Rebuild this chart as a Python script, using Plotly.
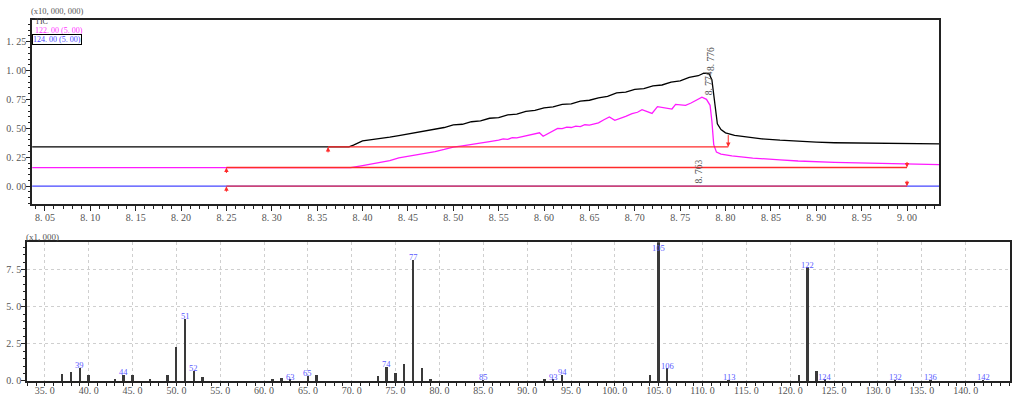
import numpy as np
import plotly.graph_objects as go

# ---------------- chromatogram (intensity in units of 10,000,000) ----------------
tic_time = [8.036, 8.100, 8.200, 8.300, 8.362, 8.385, 8.390, 8.395, 8.400, 8.410,
            8.420, 8.430, 8.440, 8.450, 8.460, 8.470, 8.480, 8.490, 8.500, 8.510,
            8.520, 8.530, 8.540, 8.550, 8.560, 8.570, 8.580, 8.590, 8.600, 8.610,
            8.620, 8.630, 8.640, 8.650, 8.660, 8.670, 8.680, 8.690, 8.700, 8.710,
            8.720, 8.730, 8.740, 8.750, 8.760, 8.770, 8.776, 8.782, 8.785, 8.788,
            8.791, 8.795, 8.800, 8.810, 8.825, 8.840, 8.860, 8.880, 8.900, 8.920,
            8.950, 8.980, 9.036]
tic_int = [0.340, 0.341, 0.340, 0.340, 0.340, 0.341, 0.356, 0.374, 0.393, 0.404,
           0.413, 0.424, 0.438, 0.452, 0.468, 0.484, 0.500, 0.508, 0.530, 0.536,
           0.558, 0.566, 0.588, 0.594, 0.618, 0.624, 0.648, 0.656, 0.678, 0.686,
           0.708, 0.712, 0.736, 0.744, 0.765, 0.778, 0.808, 0.814, 0.838, 0.844,
           0.868, 0.876, 0.900, 0.912, 0.942, 0.956, 0.978, 0.972, 0.920, 0.700,
           0.540, 0.490, 0.462, 0.440, 0.422, 0.410, 0.398, 0.388, 0.381, 0.376,
           0.372, 0.369, 0.366]

mz122_time = [8.036, 8.200, 8.387, 8.400, 8.410, 8.420, 8.430, 8.440, 8.450, 8.460,
              8.470, 8.480, 8.490, 8.500, 8.510, 8.520, 8.530, 8.540, 8.550, 8.555,
              8.560, 8.565, 8.570, 8.580, 8.590, 8.595, 8.599, 8.604, 8.610, 8.615,
              8.620, 8.625, 8.630, 8.635, 8.640, 8.645, 8.650, 8.655, 8.660, 8.666,
              8.672, 8.678, 8.684, 8.690, 8.697, 8.703, 8.708, 8.713, 8.719, 8.725,
              8.731, 8.737, 8.741, 8.745, 8.750, 8.756, 8.762, 8.767, 8.771, 8.774,
              8.779, 8.783, 8.785, 8.787, 8.790, 8.795, 8.807, 8.830, 8.860, 8.880,
              8.920, 8.960, 9.000, 9.036]
mz122_int = [0.160, 0.160, 0.160, 0.178, 0.192, 0.205, 0.222, 0.245, 0.258, 0.272,
             0.288, 0.300, 0.318, 0.338, 0.350, 0.360, 0.372, 0.385, 0.398, 0.410,
             0.405, 0.420, 0.418, 0.435, 0.452, 0.462, 0.432, 0.455, 0.480, 0.500,
             0.498, 0.512, 0.508, 0.520, 0.515, 0.532, 0.528, 0.540, 0.548, 0.575,
             0.600, 0.570, 0.585, 0.605, 0.628, 0.640, 0.662, 0.645, 0.630, 0.688,
             0.682, 0.676, 0.668, 0.708, 0.705, 0.700, 0.720, 0.742, 0.756, 0.770,
             0.752, 0.700, 0.560, 0.360, 0.295, 0.278, 0.262, 0.243, 0.228, 0.218,
             0.206, 0.197, 0.190, 0.186]

mz124_time = [8.036, 8.550, 8.600, 8.700, 8.750, 8.763, 8.785, 8.795, 9.036]
mz124_int = [0.000, 0.000, 0.002, 0.004, 0.005, 0.006, 0.004, 0.000, 0.000]

# integration baselines: start, end, level
base_start = [8.362, 8.250, 8.250]
base_end = [8.803, 9.000, 9.000]
base_level = [0.340, 0.162, 0.000]

# peak apex labels
apex_time = [8.776, 8.774, 8.763]
apex_int = [0.978, 0.770, 0.006]
apex_text = ["8. 776", "8. 774", "8. 763"]

rt_tickvals = [8.05, 8.10, 8.15, 8.20, 8.25, 8.30, 8.35, 8.40, 8.45, 8.50,
               8.55, 8.60, 8.65, 8.70, 8.75, 8.80, 8.85, 8.90, 8.95, 9.00]
rt_ticktext = ["8. 05", "8. 10", "8. 15", "8. 20", "8. 25", "8. 30", "8. 35", "8. 40",
               "8. 45", "8. 50", "8. 55", "8. 60", "8. 65", "8. 70", "8. 75", "8. 80",
               "8. 85", "8. 90", "8. 95", "9. 00"]
int_tickvals = [0.00, 0.25, 0.50, 0.75, 1.00, 1.25]
int_ticktext = ["0. 00", "0. 25", "0. 50", "0. 75", "1. 00", "1. 25"]

# ---------------- mass spectrum (intensity x1,000) ----------------
ms_mz = [37, 38, 39, 40, 43, 44, 45, 47, 49, 50, 51, 52, 53, 61, 62, 63, 65, 66,
         73, 74, 75, 76, 77, 78, 79, 85, 92, 93, 94, 104, 105, 106, 113, 121, 122,
         123, 124, 132, 136, 142]
ms_int = [0.42, 0.58, 0.86, 0.36, 0.10, 0.38, 0.35, 0.10, 0.38, 2.26, 4.14, 0.66,
          0.23, 0.12, 0.18, 0.05, 0.33, 0.40, 0.33, 0.93, 0.51, 1.11, 8.15, 0.82,
          0.05, 0.03, 0.08, 0.04, 0.38, 0.38, 9.33, 0.82, 0.03, 0.38, 7.63, 0.66,
          0.05, 0.03, 0.03, 0.03]
ms_labeled = [39, 44, 51, 52, 63, 65, 74, 77, 85, 93, 94, 105, 106, 113, 122, 124,
              132, 136, 142]

mz_tickvals = [35, 40, 45, 50, 55, 60, 65, 70, 75, 80, 85, 90, 95, 100, 105, 110,
               115, 120, 125, 130, 135, 140, 145]
mz_ticktext = ["35. 0", "40. 0", "45. 0", "50. 0", "55. 0", "60. 0", "65. 0", "70. 0",
               "75. 0", "80. 0", "85. 0", "90. 0", "95. 0", "100. 0", "105. 0",
               "110. 0", "115. 0", "120. 0", "125. 0", "130. 0", "135. 0", "140. 0",
               "145. 0"]
ms_int_tickvals = [0.0, 2.5, 5.0, 7.5]
ms_int_ticktext = ["0. 0", "2. 5", "5. 0", "7. 5"]

SERIF = "Liberation Serif"
TICK_FONT = dict(family=SERIF, size=10, color="#555555")
RED = "#ff2a2a"
MS_YMAX = 9.33

fig = go.Figure()

# chromatogram traces
fig.add_trace(go.Scatter(x=mz124_time, y=mz124_int, mode="lines",
                         line=dict(color="#4646ff", width=1.3), xaxis="x", yaxis="y"))
fig.add_trace(go.Scatter(x=mz122_time, y=mz122_int, mode="lines",
                         line=dict(color="#ff1aff", width=1.3), xaxis="x", yaxis="y"))
fig.add_trace(go.Scatter(x=tic_time, y=tic_int, mode="lines",
                         line=dict(color="#000000", width=1.3), xaxis="x", yaxis="y"))

# baselines with start / end markers
annotations = []
for s, e, lv, k in zip(base_start, base_end, base_level, range(3)):
    fig.add_trace(go.Scatter(x=[s, e], y=[lv, lv], mode="lines",
                             line=dict(color=RED, width=1.3),
                             opacity=0.85 if k == 2 else 1.0,
                             xaxis="x", yaxis="y"))
    annotations.append(dict(x=s, y=lv, xref="x", yref="y", ax=0, ay=7,
                            showarrow=True, arrowhead=2, arrowsize=0.9,
                            arrowwidth=1, arrowcolor=RED, text=""))
    if k == 0:
        top = float(np.interp(e, tic_time, tic_int))
        annotations.append(dict(x=e, y=lv, xref="x", yref="y", ax=e, ay=top,
                                axref="x", ayref="y", showarrow=True, arrowhead=2,
                                arrowsize=0.9, arrowwidth=1, arrowcolor=RED, text=""))
    else:
        annotations.append(dict(x=e, y=lv, xref="x", yref="y", ax=0, ay=-7,
                                showarrow=True, arrowhead=2, arrowsize=0.9,
                                arrowwidth=1, arrowcolor=RED, text=""))

# apex retention time labels
for t, v, s in zip(apex_time, apex_int, apex_text):
    annotations.append(dict(x=t, y=v, xref="x", yref="y", text=s, textangle=-90,
                            showarrow=False, xanchor="left", yanchor="bottom",
                            font=dict(family=SERIF, size=9.5, color="#555555")))

# mass spectrum bars
fig.add_trace(go.Bar(x=ms_mz, y=ms_int, width=0.22, marker=dict(color="#3a3a3a",
                     line=dict(width=0)), xaxis="x2", yaxis="y2"))

for m in ms_labeled:
    v = ms_int[ms_mz.index(m)]
    ly = min(v, MS_YMAX - 0.6)
    annotations.append(dict(x=m, y=ly, xref="x2", yref="y2", text=str(m),
                            showarrow=False, xanchor="center", yanchor="middle",
                            yshift=3, font=dict(family=SERIF, size=8.5, color="#5a5aff")))

# chromatogram legend and multipliers
annotations += [
    dict(x=29 / 1012, y=1 - 11.5 / 399, xref="paper", yref="paper", text="(x10, 000, 000)",
         showarrow=False, xanchor="left", yanchor="middle",
         font=dict(family=SERIF, size=8.5, color="#555555")),
    dict(x=33 / 1012, y=1 - 22 / 399, xref="paper", yref="paper", text="TIC",
         showarrow=False, xanchor="left", yanchor="middle",
         font=dict(family=SERIF, size=8, color="#444444")),
    dict(x=33 / 1012, y=1 - 31 / 399, xref="paper", yref="paper", text="122. 00 (5. 00)",
         showarrow=False, xanchor="left", yanchor="middle",
         font=dict(family=SERIF, size=8, color="#ff33ff")),
    dict(x=32 / 1012, y=1 - 40.5 / 399, xref="paper", yref="paper", text="124. 00 (5. 00)",
         showarrow=False, xanchor="left", yanchor="middle", bordercolor="#000000",
         borderwidth=1, borderpad=0,
         font=dict(family=SERIF, size=8, color="#4646ff")),
    dict(x=24 / 1012, y=1 - 241 / 399, xref="paper", yref="paper", text="(x1, 000)",
         showarrow=False, xanchor="left", yanchor="middle",
         font=dict(family=SERIF, size=9, color="#555555")),
]

axis_common = dict(showline=True, linecolor="#222222", linewidth=1.5, mirror=True,
                   ticks="outside", tickcolor="#222222", tickwidth=1,
                   tickfont=TICK_FONT, zeroline=False)

fig.update_layout(
    width=1012, height=399,
    margin=dict(l=0, r=0, t=0, b=0),
    paper_bgcolor="white", plot_bgcolor="white",
    showlegend=False, bargap=0,
    annotations=annotations,
    xaxis=dict(domain=[32 / 1012, 941 / 1012], range=[8.0357, 9.0354], anchor="y",
               tickmode="array", tickvals=rt_tickvals, ticktext=rt_ticktext,
               ticklen=5, showgrid=False, ticklabelstandoff=-2,
               minor=dict(ticks="outside", ticklen=3, dtick=0.01, tick0=8.0,
                          tickcolor="#222222", showgrid=False),
               **axis_common),
    yaxis=dict(domain=[1 - 207 / 399, 1 - 20 / 399], range=[-0.153, 1.441], anchor="x",
               tickmode="array", tickvals=int_tickvals, ticktext=int_ticktext,
               ticklen=4, showgrid=False, ticklabelstandoff=-2,
               minor=dict(ticks="outside", ticklen=2, dtick=0.05, tick0=0,
                          tickcolor="#222222", showgrid=False),
               **axis_common),
    xaxis2=dict(domain=[27 / 1012, 1.0], range=[32.96, 145.06], anchor="y2",
                tickmode="array", tickvals=mz_tickvals, ticktext=mz_ticktext,
                ticklen=3, showgrid=True, gridcolor="#cfcfcf", griddash="dot",
                gridwidth=1, ticklabelstandoff=-4,
                minor=dict(ticks="outside", ticklen=3, dtick=1, tick0=0,
                           tickcolor="#222222", showgrid=False),
                **axis_common),
    yaxis2=dict(domain=[1 - 386.7 / 399, 1 - 246 / 399], range=[0, MS_YMAX], anchor="x2",
                tickmode="array", tickvals=ms_int_tickvals, ticktext=ms_int_ticktext,
                ticklen=4, showgrid=True, gridcolor="#cfcfcf", griddash="dot",
                gridwidth=1, ticklabelstandoff=-2,
                minor=dict(ticks="outside", ticklen=2, dtick=0.5, tick0=0,
                           tickcolor="#222222", showgrid=False),
                **axis_common),
)

fig.write_html("out.html")
